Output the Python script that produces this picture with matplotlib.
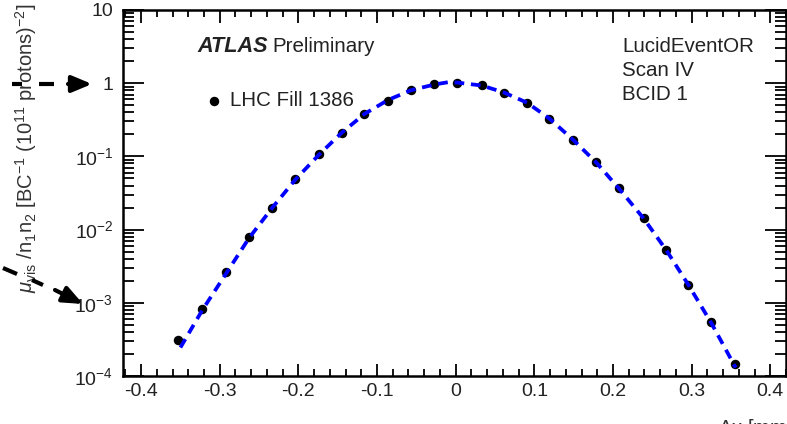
import matplotlib
matplotlib.use("Agg")
import matplotlib.pyplot as plt
from matplotlib.lines import Line2D
from matplotlib.patches import FancyArrowPatch
from matplotlib.ticker import MultipleLocator, LogLocator, FixedLocator, FixedFormatter, NullFormatter

plt.rcParams['font.family'] = ['Liberation Sans', 'DejaVu Sans']
plt.rcParams['mathtext.fontset'] = 'custom'
plt.rcParams['mathtext.rm'] = 'Liberation Sans'
plt.rcParams['mathtext.it'] = 'Liberation Sans:italic'
plt.rcParams['mathtext.bf'] = 'Liberation Sans:bold'

# data points (separation in mm, normalised visible interaction rate)
sep_x = [-0.353, -0.322, -0.292, -0.263, -0.233, -0.204, -0.174, -0.145, -0.116, -0.086,
         -0.057, -0.027, 0.002, 0.033, 0.061, 0.091, 0.119, 0.149, 0.179, 0.208,
         0.239, 0.268, 0.296, 0.325, 0.355]
mu_vis = [3.1e-4, 8.3e-4, 2.66e-3, 7.8e-3, 0.020, 0.049, 0.109, 0.210, 0.38, 0.58,
          0.80, 0.98, 1.02, 0.94, 0.74, 0.54, 0.32, 0.169, 0.083, 0.037,
          0.0145, 5.3e-3, 1.75e-3, 5.5e-4, 1.45e-4]

# fit curve
fit_x = [-0.350, -0.322, -0.292, -0.263, -0.233, -0.204, -0.174, -0.145, -0.116, -0.086,
         -0.057, -0.027, -0.010, 0.002, 0.033, 0.061, 0.091, 0.119, 0.149, 0.179, 0.208,
         0.239, 0.268, 0.296, 0.325, 0.356]
fit_y = [2.45e-4, 8.0e-4, 2.5e-3, 7.6e-3, 0.020, 0.048, 0.105, 0.21, 0.38, 0.59,
         0.80, 0.96, 1.03, 1.02, 0.93, 0.75, 0.54, 0.33, 0.17, 0.082, 0.036,
         0.0142, 5.2e-3, 1.75e-3, 5.3e-4, 1.3e-4]

ytick_vals = [1e-4, 1e-3, 1e-2, 1e-1, 1, 10]
ytick_labels = [r'$10^{-4}$', r'$10^{-3}$', r'$10^{-2}$', r'$10^{-1}$', '1', '10']

W, H = 787, 424
fig = plt.figure(figsize=(W / 100, H / 100), dpi=100)
ax = fig.add_axes([123 / W, 48 / H, (786 - 123) / W, (376 - 10) / H])

ax.plot(sep_x, mu_vis, 'o', color='black', markersize=5.8, zorder=2)
ax.plot(fit_x, fit_y, color='#0000ff', lw=2.7, ls=(0, (2.6, 1.8)), zorder=3)

ax.set_yscale('log')
ax.set_xlim(-0.423, 0.420)
ax.set_ylim(1e-4, 10)

ax.xaxis.set_major_locator(MultipleLocator(0.1))
ax.xaxis.set_minor_locator(MultipleLocator(0.02))
ax.xaxis.set_major_formatter(matplotlib.ticker.FuncFormatter(
    lambda v, p: '0' if abs(v) < 1e-9 else ('%.1f' % v)))
ax.yaxis.set_major_locator(FixedLocator(ytick_vals))
ax.yaxis.set_major_formatter(FixedFormatter(ytick_labels))
ax.yaxis.set_minor_locator(LogLocator(base=10, subs=range(2, 10), numticks=20))
ax.yaxis.set_minor_formatter(NullFormatter())

ax.tick_params(axis='both', which='both', direction='in', top=True, right=True,
               labelsize=14, colors='black', width=1.3)
ax.tick_params(axis='both', labelcolor='#222222')
ax.tick_params(axis='x', which='major', length=9, pad=5)
ax.tick_params(axis='x', which='minor', length=5)
ax.tick_params(axis='y', which='major', length=15, pad=7)
ax.tick_params(axis='y', which='minor', length=8)
for s in ax.spines.values():
    s.set_linewidth(1.8)

# texts
fig.text(197 / W, 1 - 47 / H, 'ATLAS', fontsize=15.6, fontweight='bold', fontstyle='italic',
         va='center', ha='left', color='#222222')
fig.text(272 / W, 1 - 47 / H, 'Preliminary', fontsize=14.8, va='center', ha='left',
         color='#222222')
for i, t in enumerate(['LucidEventOR', 'Scan IV', 'BCID 1']):
    fig.text(622 / W, 1 - (47 + 24 * i) / H, t, fontsize=14.8, va='center', ha='left',
             color='#222222')

# legend
fig.add_artist(Line2D([214], [H - 101], marker='o', color='black', markersize=5.8,
                      linestyle='none', transform=None))
fig.text(230 / W, 1 - 101 / H, 'LHC Fill 1386', fontsize=14.8, va='center', ha='left',
         color='#222222')

# axis labels
fig.text(39 / W, 1 - 4 / H,
         r'$\mu_{\rm vis}$ /n$_1$n$_2$ [BC$^{-1}$ (10$^{11}$ protons)$^{-2}$]',
         rotation=90, fontsize=14.5, ha='right', va='top', color='#333333')
fig.text(718 / W, 1 - 417 / H, r'$\Delta$x [mm]', fontsize=14.5, ha='left', va='top',
         color='#333333')

# dashed annotation arrows: separate dash segments + solid head segment
arrows = [
    ([((12, 84), (22, 84)), ((39, 84), (54, 84))], ((68, 84), (92, 84))),
    ([((3, 268), (17, 274)), ((32, 280), (43, 285))], ((55, 290), (83, 304))),
]
for dashes, (a, b) in arrows:
    for (x0, y0), (x1, y1) in dashes:
        fig.add_artist(Line2D([x0, x1], [H - y0, H - y1], color='black', lw=3,
                              transform=None, solid_capstyle='butt', zorder=5))
    fig.add_artist(FancyArrowPatch((a[0], H - a[1]), (b[0], H - b[1]), transform=None,
                                   arrowstyle='-|>,head_length=0.6,head_width=0.25',
                                   mutation_scale=20, lw=3, color='black',
                                   shrinkA=0, shrinkB=0, zorder=5))

fig.savefig('out.png', dpi=100)
